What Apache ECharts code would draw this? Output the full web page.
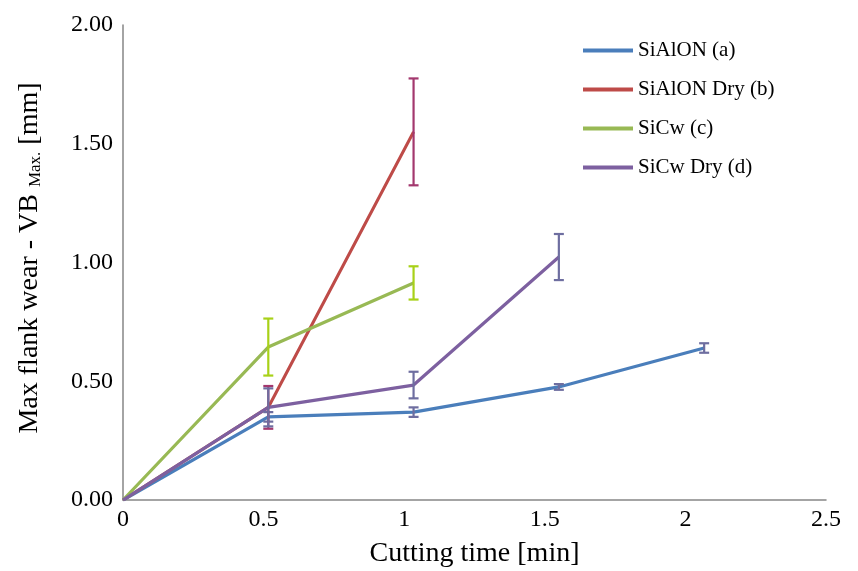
<!DOCTYPE html>
<html>
<head>
<meta charset="utf-8">
<script src="https://cdn.jsdelivr.net/npm/echarts@6/dist/echarts.min.js"></script>
<style>
html, body { margin: 0; padding: 0; background: #fff; }
#main { width: 858px; height: 571px; }
</style>
</head>
<body>
<div id="main"></div>
<script>
// cutting times (min)
var times = [0, 0.5167, 1.0333, 1.55, 2.0667];

var names = ['SiAlON (a)', 'SiAlON Dry (b)', 'SiCw (c)', 'SiCw Dry (d)'];
var lineColors = ['#4a7ebb', '#be4b48', '#98b954', '#7d60a0'];
var barColors = ['#6e6ea0', '#a3386e', '#a8d118', '#6e6ea0'];

// max flank wear values
var sialonA = [0, 0.35, 0.37, 0.476, 0.64];
var sialonDryB = [0, 0.39, 1.55];
var sicwC = [0, 0.644, 0.914];
var sicwDryD = [0, 0.39, 0.484, 1.023];

// error (+/-)
var sialonAErr = [0, 0.02, 0.02, 0.012, 0.02];
var sialonDryBErr = [0, 0.09, 0.225];
var sicwCErr = [0, 0.12, 0.07];
var sicwDryDErr = [0, 0.08, 0.056, 0.097];

var yTicks = ['0.00', '0.50', '1.00', '1.50', '2.00'];

var allVals = [sialonA, sialonDryB, sicwC, sicwDryD];
var allErr = [sialonAErr, sialonDryBErr, sicwCErr, sicwDryDErr];

var font = '"Liberation Serif", "Times New Roman", serif';

var chart = echarts.init(document.getElementById('main'));
var series = [];

for (var i = 0; i < 4; i++) {
    var pts = [];
    var errPts = [];
    for (var j = 0; j < allVals[i].length; j++) {
        pts.push([times[j], allVals[i][j]]);
        if (j > 0) {
            errPts.push([times[j], allVals[i][j] - allErr[i][j], allVals[i][j] + allErr[i][j]]);
        }
    }
    series.push({
        name: names[i],
        type: 'line',
        data: pts,
        symbol: 'none',
        lineStyle: { width: 3.2, color: lineColors[i] },
        itemStyle: { color: lineColors[i] },
        z: 2
    });
    (function (col) {
        series.push({
            type: 'custom',
            data: errPts,
            z: 3,
            renderItem: function (params, api) {
                var lo = api.coord([api.value(0), api.value(1)]);
                var hi = api.coord([api.value(0), api.value(2)]);
                var w = 5;
                var st = { stroke: col, lineWidth: 2.2 };
                return {
                    type: 'group',
                    children: [
                        { type: 'line', shape: { x1: lo[0], y1: lo[1], x2: hi[0], y2: hi[1] }, style: st },
                        { type: 'line', shape: { x1: lo[0] - w, y1: lo[1], x2: lo[0] + w, y2: lo[1] }, style: st },
                        { type: 'line', shape: { x1: hi[0] - w, y1: hi[1], x2: hi[0] + w, y2: hi[1] }, style: st }
                    ]
                };
            }
        });
    })(barColors[i]);
}

var option = {
    animation: false,
    backgroundColor: '#fff',
    grid: { left: 123, right: 32, top: 25, bottom: 71, outerBoundsMode: 'none', containLabel: false },
    legend: {
        data: names,
        orient: 'vertical',
        left: 578,
        top: 35,
        itemWidth: 50,
        itemHeight: 4,
        itemGap: 18,
        icon: 'rect',
        textStyle: { fontFamily: font, fontSize: 21, color: '#000' }
    },
    graphic: [{
        type: 'text',
        x: 30,
        y: 258,
        rotation: Math.PI / 2,
        style: {
            text: '{a|Max flank wear - VB }{s|Max.}{a| [mm]}',
            align: 'center',
            verticalAlign: 'middle',
            rich: {
                a: { fontFamily: font, fontSize: 28, fill: '#000' },
                s: { fontFamily: font, fontSize: 17, fill: '#000', verticalAlign: 'bottom', padding: [8, 0, 0, 0] }
            }
        }
    }],
    xAxis: {
        type: 'value',
        min: 0,
        max: 2.5,
        interval: 0.5,
        name: 'Cutting time [min]',
        nameLocation: 'middle',
        nameGap: 40,
        nameTextStyle: { fontFamily: font, fontSize: 28, color: '#000' },
        axisLine: { lineStyle: { color: '#868686', width: 1.5 } },
        axisTick: { show: false },
        splitLine: { show: false },
        axisLabel: { fontFamily: font, fontSize: 24, color: '#000', margin: 8 }
    },
    yAxis: {
        type: 'value',
        min: 0,
        max: 2,
        interval: 0.5,
        axisLine: { show: true, lineStyle: { color: '#868686', width: 1.5 } },
        axisTick: { show: false },
        splitLine: { show: false },
        axisLabel: {
            fontFamily: font, fontSize: 24, color: '#000', margin: 10,
            formatter: function (v) { return yTicks[Math.round(v / 0.5)]; }
        }
    },
    series: series
};

chart.setOption(option);
</script>
</body>
</html>
